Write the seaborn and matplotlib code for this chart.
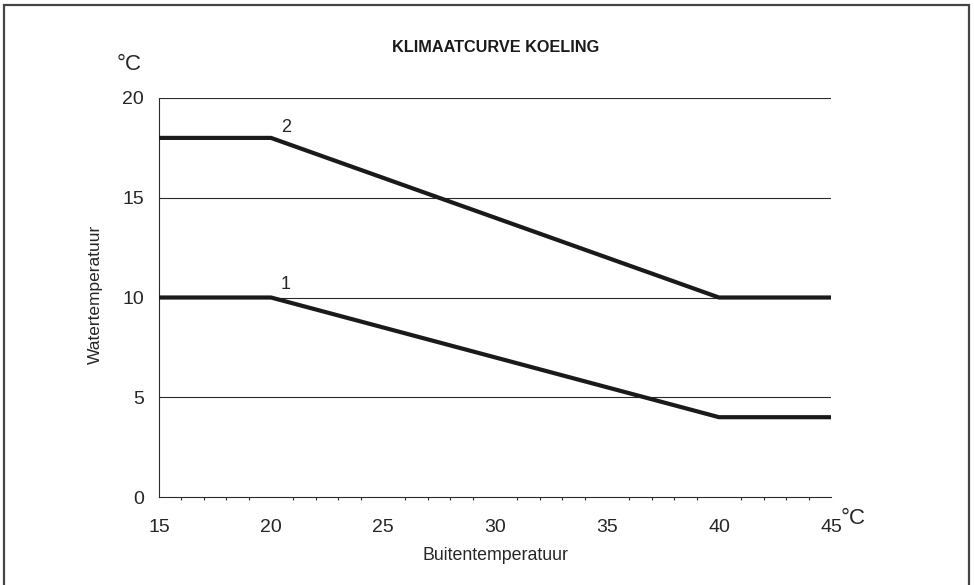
import pandas as pd
import matplotlib.pyplot as plt
import seaborn as sns
from matplotlib.patches import Rectangle
from matplotlib.ticker import MultipleLocator

# Klimaatcurve koeling: buitentemperatuur vs watertemperatuur
buiten = [15, 20, 40, 45]
curve_1 = [10, 10, 4, 4]
curve_2 = [18, 18, 10, 10]
y_ticks = [0, 5, 10, 15, 20]
x_ticks = [15, 20, 25, 30, 35, 40, 45]

df = pd.DataFrame({
    "buiten": buiten * 2,
    "water": curve_1 + curve_2,
    "curve": ["1"] * len(buiten) + ["2"] * len(buiten),
})

sns.set_style("white")
plt.rcParams["font.family"] = ["Liberation Sans", "DejaVu Sans"]

fig = plt.figure(figsize=(9.74, 5.85), dpi=100)
ax = fig.add_axes([159 / 974, 88 / 585, 672 / 974, 399 / 585])

# horizontale rasterlijnen
for y in y_ticks[1:]:
    ax.axhline(y, color="#2a2a2a", lw=0.8, zorder=1)

sns.lineplot(data=df, x="buiten", y="water", hue="curve",
             palette={"1": "#1a1a1a", "2": "#1a1a1a"},
             lw=3, legend=False, ax=ax, zorder=3)

ax.text(20.45, 18.3, "2", fontsize=13, ha="left", va="baseline")
ax.text(20.45, 10.45, "1", fontsize=13, ha="left", va="baseline")

ax.set_xlim(15, 45)
ax.set_ylim(0, 20)
ax.set_xticks(x_ticks)
ax.set_yticks(y_ticks)
ax.xaxis.set_minor_locator(MultipleLocator(1))
ax.tick_params(axis="both", which="major", labelsize=14, color="#2a2a2a",
               direction="out", length=4.8, width=0.8)
ax.tick_params(axis="x", which="major", pad=11)
ax.tick_params(axis="y", which="major", pad=6)
ax.tick_params(axis="x", which="minor", direction="out", length=2.3,
               width=0.8, color="#2a2a2a", bottom=True)

for s in ["top", "right"]:
    ax.spines[s].set_visible(False)
for s in ["left", "bottom"]:
    ax.spines[s].set_color("#2a2a2a")
    ax.spines[s].set_linewidth(0.8)

ax.set_xlabel("")
ax.set_ylabel("")

fig.text(496 / 974, 1 - 48 / 585, "KLIMAATCURVE KOELING", ha="center",
         va="center", fontsize=11.7, fontweight="bold", color="#1a1a1a")
fig.text(117 / 974, 1 - 70 / 585, "°C", ha="left", va="baseline", fontsize=16)
fig.text(841 / 974, 1 - 524 / 585, "°C", ha="left", va="baseline", fontsize=16)
fig.text(496 / 974, 1 - 555 / 585, "Buitentemperatuur", ha="center",
         va="center", fontsize=12.8)
fig.text(95 / 974, 1 - 294 / 585, "Watertemperatuur", ha="center",
         va="center", fontsize=12.5, rotation=90)

# kader rond de figuur
fig.patches.append(Rectangle((3.5 / 974, -0.05), 965.5 / 974, 1.05 - 4.5 / 585,
                             transform=fig.transFigure, fill=False,
                             edgecolor="#444444", lw=1.6, figure=fig))

fig.savefig("out.png", dpi=100)
plt.close(fig)
